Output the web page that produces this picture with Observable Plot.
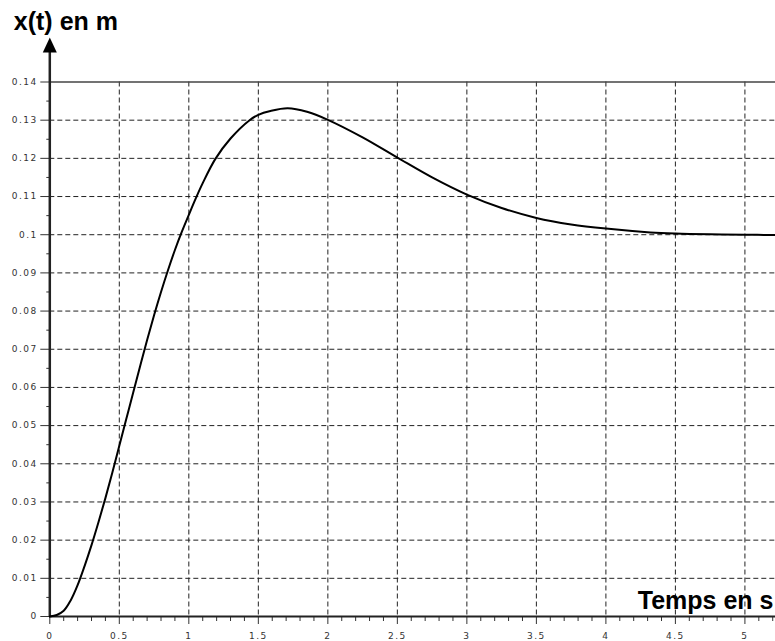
<!DOCTYPE html>
<html>
<head>
<meta charset="utf-8">
<script src="https://cdn.jsdelivr.net/npm/d3@7"></script>
<script src="https://cdn.jsdelivr.net/npm/@observablehq/plot@0.6"></script>
<style>
  html, body { margin: 0; padding: 0; background: #fff; }
  #chart svg { display: block; }
  #chart svg [aria-label="x-axis tick label"] text,
  #chart svg [aria-label="y-axis tick label"] text { letter-spacing: 1.5px; }
</style>
</head>
<body>
<div id="chart"></div>
<script>
// Step response x(t) of the mass position (m) versus time (s)
const time = [0, 0.05, 0.1, 0.15, 0.2, 0.25, 0.3, 0.35, 0.4, 0.45, 0.5, 0.55, 0.6, 0.65,
  0.7, 0.75, 0.8, 0.85, 0.9, 0.95, 1.0, 1.05, 1.1, 1.19, 1.3, 1.437, 1.5, 1.587, 1.711,
  1.85, 2.0, 2.25, 2.5, 2.75, 3.0, 3.25, 3.5, 3.75, 4.0, 4.32, 4.5, 4.75, 5.0, 5.22];
const position = [0, 0.0004, 0.0015, 0.0042, 0.0082, 0.0132, 0.0187, 0.0247, 0.031,
  0.0377, 0.0447, 0.0517, 0.0587, 0.0656, 0.0724, 0.0789, 0.085, 0.0907, 0.096, 0.1008,
  0.1052, 0.1095, 0.1135, 0.1198, 0.1252, 0.13, 0.1314, 0.1324, 0.1331, 0.1322, 0.1301,
  0.1255, 0.1202, 0.115, 0.1105, 0.107, 0.1044, 0.1027, 0.1016, 0.1006, 0.1003, 0.1001,
  0.1, 0.0999];

// Axis ticks
const xTicks = [0, 0.5, 1, 1.5, 2, 2.5, 3, 3.5, 4, 4.5, 5];
const yTicks = [0, 0.01, 0.02, 0.03, 0.04, 0.05, 0.06, 0.07, 0.08, 0.09, 0.1, 0.11, 0.12, 0.13, 0.14];
const xMinor = d3.range(0, 53).filter(i => i % 5 !== 0).map(i => i / 10);
const yMinor = d3.range(0, 14).map(i => (i + 0.5) / 100);

// Axis labels
const yLabel = "x(t) en m";
const xLabel = "Temps en s";

// Vertical axis extends above the frame and ends with a filled arrowhead
const yAxisEnd = 0.1477;
const arrowTip = 0.1497;
const arrowHead = {
  draw(context) {
    context.moveTo(0, -7.5);
    context.lineTo(7, 7.5);
    context.lineTo(-7, 7.5);
    context.closePath();
  }
};

const data = time.map((t, i) => ({t, x: position[i]}));
const grid = {stroke: "#222", strokeOpacity: 1, strokeWidth: 1, strokeDasharray: "5,3"};
const plain = d => String(d);

const chart = Plot.plot({
  width: 775,
  height: 641,
  marginLeft: 49.3,
  marginRight: 0,
  marginTop: 81.5,
  marginBottom: 25,
  style: {fontFamily: "DejaVu Sans", fontSize: "9px", color: "#333", background: "#fff", overflow: "visible"},
  x: {domain: [0, 5.22]},
  y: {domain: [0, 0.14]},
  marks: [
    Plot.gridX(xTicks.filter(d => d > 0), grid),
    Plot.gridY(yTicks.filter(d => d > 0 && d < 0.14), grid),
    Plot.ruleY([0.14], {stroke: "#444", strokeWidth: 1.5}),
    Plot.axisX(xMinor, {tickSize: 5, tickFormat: () => "", stroke: "#333", label: null}),
    Plot.axisX(xTicks, {tickSize: 8, tickPadding: 8, tickFormat: plain, stroke: "#333", fill: "#333", label: null}),
    Plot.axisY(yMinor, {tickSize: 3, tickFormat: () => "", stroke: "#333", label: null}),
    Plot.axisY(yTicks, {tickSize: 9, tickPadding: 3, tickFormat: plain, stroke: "#333", fill: "#333", label: null}),
    Plot.ruleY([0], {stroke: "#222", strokeWidth: 2}),
    Plot.ruleX([0], {y1: 0, y2: yAxisEnd, stroke: "#222", strokeWidth: 2.5}),
    Plot.dot([0], {x: 0, y: arrowTip, symbol: arrowHead, fill: "#000", stroke: null}),
    Plot.line(data, {x: "t", y: "x", curve: "catmull-rom", stroke: "#000", strokeWidth: 2}),
    Plot.text([yLabel], {
      frameAnchor: "top-left", textAnchor: "start", lineAnchor: "middle",
      dx: -36, dy: -60.5, fontFamily: "Liberation Sans", fontWeight: "bold", fontSize: 25, fill: "#000"
    }),
    Plot.text([xLabel], {
      frameAnchor: "bottom-right", textAnchor: "end", lineAnchor: "middle",
      dx: -2, dy: -16, fontFamily: "Liberation Sans", fontWeight: "bold", fontSize: 25, fill: "#000"
    })
  ]
});

document.getElementById("chart").append(chart);
</script>
</body>
</html>
